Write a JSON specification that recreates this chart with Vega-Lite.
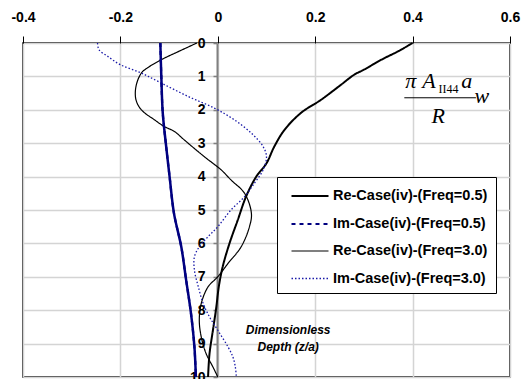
{
  "$schema": "https://vega.github.io/schema/vega-lite/v6.json",
  "width": 487,
  "height": 334,
  "autosize": "none",
  "padding": {"left": 23, "top": 43, "right": 12, "bottom": 2},
  "background": "white",
  "config": {
    "view": {"stroke": "black", "strokeWidth": 1.5},
    "font": "Liberation Sans"
  },
  "datasets": {
    "curves": [
      {"series": "Re-Case(iv)-(Freq=0.5)", "x": 0.4, "depth": 0},
      {"series": "Re-Case(iv)-(Freq=0.5)", "x": 0.37, "depth": 0.25},
      {"series": "Re-Case(iv)-(Freq=0.5)", "x": 0.336, "depth": 0.5},
      {"series": "Re-Case(iv)-(Freq=0.5)", "x": 0.3, "depth": 0.8},
      {"series": "Re-Case(iv)-(Freq=0.5)", "x": 0.28, "depth": 0.95},
      {"series": "Re-Case(iv)-(Freq=0.5)", "x": 0.253, "depth": 1.25},
      {"series": "Re-Case(iv)-(Freq=0.5)", "x": 0.212, "depth": 1.7},
      {"series": "Re-Case(iv)-(Freq=0.5)", "x": 0.171, "depth": 2.09},
      {"series": "Re-Case(iv)-(Freq=0.5)", "x": 0.137, "depth": 2.6},
      {"series": "Re-Case(iv)-(Freq=0.5)", "x": 0.116, "depth": 3.1},
      {"series": "Re-Case(iv)-(Freq=0.5)", "x": 0.1, "depth": 3.6},
      {"series": "Re-Case(iv)-(Freq=0.5)", "x": 0.079, "depth": 4.0},
      {"series": "Re-Case(iv)-(Freq=0.5)", "x": 0.058, "depth": 4.6},
      {"series": "Re-Case(iv)-(Freq=0.5)", "x": 0.041, "depth": 5.3},
      {"series": "Re-Case(iv)-(Freq=0.5)", "x": 0.024, "depth": 6.0},
      {"series": "Re-Case(iv)-(Freq=0.5)", "x": 0.01, "depth": 6.7},
      {"series": "Re-Case(iv)-(Freq=0.5)", "x": 0.002, "depth": 7.3},
      {"series": "Re-Case(iv)-(Freq=0.5)", "x": -0.003, "depth": 7.9},
      {"series": "Re-Case(iv)-(Freq=0.5)", "x": -0.01, "depth": 8.6},
      {"series": "Re-Case(iv)-(Freq=0.5)", "x": -0.017, "depth": 9.3},
      {"series": "Re-Case(iv)-(Freq=0.5)", "x": -0.02, "depth": 10},
      {"series": "Im-Case(iv)-(Freq=0.5)", "x": -0.118, "depth": 0},
      {"series": "Im-Case(iv)-(Freq=0.5)", "x": -0.116, "depth": 1.0},
      {"series": "Im-Case(iv)-(Freq=0.5)", "x": -0.113, "depth": 2.1},
      {"series": "Im-Case(iv)-(Freq=0.5)", "x": -0.106, "depth": 3.1},
      {"series": "Im-Case(iv)-(Freq=0.5)", "x": -0.099, "depth": 4.0},
      {"series": "Im-Case(iv)-(Freq=0.5)", "x": -0.09, "depth": 5.1},
      {"series": "Im-Case(iv)-(Freq=0.5)", "x": -0.075, "depth": 6.1},
      {"series": "Im-Case(iv)-(Freq=0.5)", "x": -0.065, "depth": 7.1},
      {"series": "Im-Case(iv)-(Freq=0.5)", "x": -0.055, "depth": 8.1},
      {"series": "Im-Case(iv)-(Freq=0.5)", "x": -0.048, "depth": 9.1},
      {"series": "Im-Case(iv)-(Freq=0.5)", "x": -0.045, "depth": 10},
      {"series": "Re-Case(iv)-(Freq=3.0)", "x": -0.043, "depth": 0},
      {"series": "Re-Case(iv)-(Freq=3.0)", "x": -0.08, "depth": 0.25},
      {"series": "Re-Case(iv)-(Freq=3.0)", "x": -0.116, "depth": 0.5},
      {"series": "Re-Case(iv)-(Freq=3.0)", "x": -0.145, "depth": 0.75},
      {"series": "Re-Case(iv)-(Freq=3.0)", "x": -0.157, "depth": 0.9},
      {"series": "Re-Case(iv)-(Freq=3.0)", "x": -0.168, "depth": 1.3},
      {"series": "Re-Case(iv)-(Freq=3.0)", "x": -0.168, "depth": 1.7},
      {"series": "Re-Case(iv)-(Freq=3.0)", "x": -0.157, "depth": 2.0},
      {"series": "Re-Case(iv)-(Freq=3.0)", "x": -0.13, "depth": 2.3},
      {"series": "Re-Case(iv)-(Freq=3.0)", "x": -0.11, "depth": 2.5},
      {"series": "Re-Case(iv)-(Freq=3.0)", "x": -0.089, "depth": 2.65},
      {"series": "Re-Case(iv)-(Freq=3.0)", "x": -0.069, "depth": 2.9},
      {"series": "Re-Case(iv)-(Freq=3.0)", "x": -0.028, "depth": 3.4},
      {"series": "Re-Case(iv)-(Freq=3.0)", "x": 0.007, "depth": 3.8},
      {"series": "Re-Case(iv)-(Freq=3.0)", "x": 0.027, "depth": 4.1},
      {"series": "Re-Case(iv)-(Freq=3.0)", "x": 0.055, "depth": 4.5},
      {"series": "Re-Case(iv)-(Freq=3.0)", "x": 0.069, "depth": 5.1},
      {"series": "Re-Case(iv)-(Freq=3.0)", "x": 0.065, "depth": 5.5},
      {"series": "Re-Case(iv)-(Freq=3.0)", "x": 0.048, "depth": 6.1},
      {"series": "Re-Case(iv)-(Freq=3.0)", "x": 0.021, "depth": 6.6},
      {"series": "Re-Case(iv)-(Freq=3.0)", "x": 0.0, "depth": 7.0},
      {"series": "Re-Case(iv)-(Freq=3.0)", "x": -0.02, "depth": 7.3},
      {"series": "Re-Case(iv)-(Freq=3.0)", "x": -0.034, "depth": 7.8},
      {"series": "Re-Case(iv)-(Freq=3.0)", "x": -0.038, "depth": 8.3},
      {"series": "Re-Case(iv)-(Freq=3.0)", "x": -0.034, "depth": 8.8},
      {"series": "Re-Case(iv)-(Freq=3.0)", "x": -0.024, "depth": 9.3},
      {"series": "Re-Case(iv)-(Freq=3.0)", "x": -0.01, "depth": 9.7},
      {"series": "Re-Case(iv)-(Freq=3.0)", "x": 0.0, "depth": 10},
      {"series": "Im-Case(iv)-(Freq=3.0)", "x": -0.247, "depth": 0},
      {"series": "Im-Case(iv)-(Freq=3.0)", "x": -0.244, "depth": 0.2},
      {"series": "Im-Case(iv)-(Freq=3.0)", "x": -0.226, "depth": 0.4},
      {"series": "Im-Case(iv)-(Freq=3.0)", "x": -0.2, "depth": 0.65},
      {"series": "Im-Case(iv)-(Freq=3.0)", "x": -0.157, "depth": 0.9},
      {"series": "Im-Case(iv)-(Freq=3.0)", "x": -0.116, "depth": 1.2},
      {"series": "Im-Case(iv)-(Freq=3.0)", "x": -0.061, "depth": 1.6},
      {"series": "Im-Case(iv)-(Freq=3.0)", "x": -0.007, "depth": 1.95},
      {"series": "Im-Case(iv)-(Freq=3.0)", "x": 0.034, "depth": 2.3},
      {"series": "Im-Case(iv)-(Freq=3.0)", "x": 0.069, "depth": 2.7},
      {"series": "Im-Case(iv)-(Freq=3.0)", "x": 0.093, "depth": 3.1},
      {"series": "Im-Case(iv)-(Freq=3.0)", "x": 0.1, "depth": 3.4},
      {"series": "Im-Case(iv)-(Freq=3.0)", "x": 0.093, "depth": 3.8},
      {"series": "Im-Case(iv)-(Freq=3.0)", "x": 0.075, "depth": 4.2},
      {"series": "Im-Case(iv)-(Freq=3.0)", "x": 0.055, "depth": 4.6},
      {"series": "Im-Case(iv)-(Freq=3.0)", "x": 0.027, "depth": 5.0},
      {"series": "Im-Case(iv)-(Freq=3.0)", "x": 0.0, "depth": 5.5},
      {"series": "Im-Case(iv)-(Freq=3.0)", "x": -0.02, "depth": 5.8},
      {"series": "Im-Case(iv)-(Freq=3.0)", "x": -0.038, "depth": 6.1},
      {"series": "Im-Case(iv)-(Freq=3.0)", "x": -0.048, "depth": 6.4},
      {"series": "Im-Case(iv)-(Freq=3.0)", "x": -0.048, "depth": 6.8},
      {"series": "Im-Case(iv)-(Freq=3.0)", "x": -0.04, "depth": 7.3},
      {"series": "Im-Case(iv)-(Freq=3.0)", "x": -0.03, "depth": 7.8},
      {"series": "Im-Case(iv)-(Freq=3.0)", "x": -0.017, "depth": 8.2},
      {"series": "Im-Case(iv)-(Freq=3.0)", "x": 0.0, "depth": 8.6},
      {"series": "Im-Case(iv)-(Freq=3.0)", "x": 0.021, "depth": 9.1},
      {"series": "Im-Case(iv)-(Freq=3.0)", "x": 0.031, "depth": 9.4},
      {"series": "Im-Case(iv)-(Freq=3.0)", "x": 0.036, "depth": 9.7},
      {"series": "Im-Case(iv)-(Freq=3.0)", "x": 0.038, "depth": 10}
    ],
    "formula": [
      {"t": "π", "x": 0.385, "depth": 1.34, "part": "big"},
      {"t": "A", "x": 0.42, "depth": 1.34, "part": "big"},
      {"t": "II44", "x": 0.453, "depth": 1.49, "part": "sub"},
      {"t": "a", "x": 0.5, "depth": 1.34, "part": "big"},
      {"t": "w", "x": 0.527, "depth": 1.79, "part": "big"},
      {"t": "R", "x": 0.439, "depth": 2.39, "part": "big"}
    ],
    "bar": [{"x": 0.383, "x2": 0.53, "depth": 1.64}],
    "note": [
      {"t": "Dimensionless", "x": 0.1445, "depth": 8.58},
      {"t": "Depth (z/a)", "x": 0.1445, "depth": 9.1}
    ]
  },
  "encoding": {
    "x": {
      "field": "x", "type": "quantitative",
      "scale": {"domain": [-0.4, 0.6], "nice": false, "zero": false},
      "axis": {
        "orient": "top", "title": null,
        "values": [-0.4, -0.2, 0, 0.2, 0.4, 0.6],
        "labelExpr": "'' + datum.value",
        "labelFont": "Liberation Sans", "labelFontSize": 14, "labelFontWeight": "bold", "labelColor": "black",
        "labelPadding": 12, "labelFlush": false,
        "tickSize": 7, "tickColor": "black", "tickWidth": 1,
        "domain": false,
        "grid": true, "gridColor": "#d4d4d4", "gridWidth": 1.5
      }
    },
    "y": {
      "field": "depth", "type": "quantitative",
      "scale": {"domain": [0, 10], "reverse": true, "nice": false},
      "axis": {
        "orient": "left", "title": null, "offset": -194,
        "values": [0, 1, 2, 3, 4, 5, 6, 7, 8, 9, 10],
        "labelFont": "Liberation Sans", "labelFontSize": 14, "labelFontWeight": "bold", "labelColor": "black",
        "labelPadding": 8, "labelFlush": false,
        "tickSize": 4, "tickColor": "#808080", "tickWidth": 1.5,
        "domainColor": "#808080", "domainWidth": 2,
        "grid": true, "gridColor": "#d4d4d4", "gridWidth": 1.5
      }
    }
  },
  "layer": [
    {
      "data": {"name": "note"},
      "mark": {"type": "text", "font": "Liberation Sans", "fontStyle": "italic", "fontWeight": "bold", "fontSize": 12, "align": "center", "baseline": "middle", "color": "black"},
      "encoding": {"text": {"field": "t"}}
    },
    {
      "data": {"name": "curves"},
      "mark": {"type": "line", "interpolate": "catmull-rom"},
      "encoding": {
        "order": {"field": "depth", "type": "quantitative"},
        "color": {
          "field": "series", "type": "nominal",
          "scale": {
            "domain": ["Re-Case(iv)-(Freq=0.5)", "Im-Case(iv)-(Freq=0.5)", "Re-Case(iv)-(Freq=3.0)", "Im-Case(iv)-(Freq=3.0)"],
            "range": ["black", "#000080", "black", "#1a1aa8"]
          },
          "legend": {
            "title": null, "orient": "none", "legendX": 254, "legendY": 134,
            "strokeColor": "black", "fillColor": "white", "padding": 8,
            "symbolType": "M-1.85,0H1.85", "symbolSize": 400, "symbolOffset": 13.5,
            "labelFont": "Liberation Sans", "labelFontSize": 14.5, "labelFontWeight": "bold", "labelColor": "black",
            "labelLimit": 300, "labelOffset": 11.5, "rowPadding": 9.5
          }
        },
        "strokeWidth": {
          "field": "series", "type": "nominal",
          "scale": {
            "type": "ordinal",
            "domain": ["Re-Case(iv)-(Freq=0.5)", "Im-Case(iv)-(Freq=0.5)", "Re-Case(iv)-(Freq=3.0)", "Im-Case(iv)-(Freq=3.0)"],
            "range": [2, 2.2, 1.2, 1.3]
          }
        },
        "strokeDash": {
          "field": "series", "type": "nominal",
          "scale": {
            "domain": ["Re-Case(iv)-(Freq=0.5)", "Im-Case(iv)-(Freq=0.5)", "Re-Case(iv)-(Freq=3.0)", "Im-Case(iv)-(Freq=3.0)"],
            "range": [[1, 0], [4, 4], [1, 0], [1.5, 2]]
          }
        }
      }
    },
    {
      "data": {"name": "curves"},
      "transform": [{"filter": "datum.series == 'Im-Case(iv)-(Freq=0.5)'"}],
      "mark": {"type": "line", "interpolate": "catmull-rom", "color": "#000080", "strokeWidth": 2.5},
      "encoding": {"order": {"field": "depth", "type": "quantitative"}}
    },
    {
      "data": {"name": "formula"},
      "transform": [{"filter": "datum.part == 'big'"}],
      "mark": {"type": "text", "font": "Liberation Serif", "fontStyle": "italic", "fontSize": 22, "align": "left", "baseline": "alphabetic", "color": "black"},
      "encoding": {"text": {"field": "t"}}
    },
    {
      "data": {"name": "formula"},
      "transform": [{"filter": "datum.part == 'sub'"}],
      "mark": {"type": "text", "font": "Liberation Serif", "fontSize": 12, "align": "left", "baseline": "alphabetic", "color": "black"},
      "encoding": {"text": {"field": "t"}}
    },
    {
      "data": {"name": "bar"},
      "mark": {"type": "rule", "color": "black", "strokeWidth": 1},
      "encoding": {"x2": {"field": "x2"}}
    }
  ]
}
